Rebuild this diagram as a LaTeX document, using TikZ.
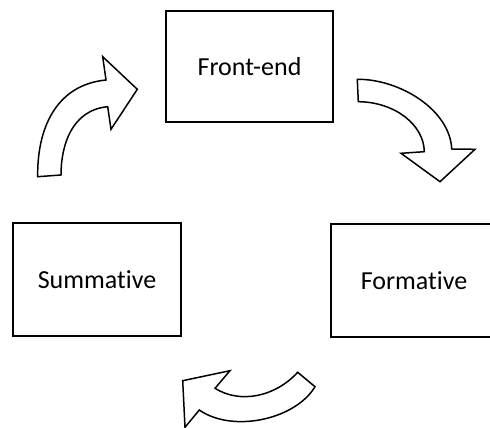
\documentclass[tikz,border=0pt]{standalone}
\usepackage{fontspec}
\setmainfont{Carlito}[Ligatures={NoCommon}]
\usetikzlibrary{positioning}

\begin{document}
\begin{tikzpicture}[x=0.02cm,y=-0.02cm,semithick]
	  \tikzstyle{stage}=[rectangle,draw=black,line width=1.1pt,fill=white,inner sep=0pt,
	    text=black,font=\fontsize{14.8}{18}\selectfont]
	  \tikzstyle{blockarrow}=[draw=black,line width=0.85pt,fill=white,line join=miter]

	  \useasboundingbox (0,0) rectangle (490,428);

	  \node[stage,minimum width=3.34cm,minimum height=2.23cm] (FE) at (249.5,66.3) {Front-end};
	  \node[stage,minimum width=3.36cm,minimum height=2.26cm] (SU) at (97,279.5) {Summative};
	  % right side runs off the page
	  \node[stage,minimum width=3.58cm,minimum height=2.25cm] (FO) at (420.5,280.5) {Formative\rule{0.26cm}{0pt}};

	  % summative to front-end
	  \draw[blockarrow] (37.7,176.7) .. controls (37,130) and (55,85) .. (106,80)
	    -- (102.7,56.7) -- (137.3,89.3) -- (111,129.3) -- (107.7,106.7)
	    .. controls (72,110) and (61,145) .. (61,175) -- cycle;

	  % front-end to formative
	  \draw[blockarrow] (357.3,79.3) .. controls (400,79) and (450,110) .. (451.7,149)
	    -- (475,149.3) -- (440,181.7) -- (401,153.3) -- (424.3,151.7)
	    .. controls (424,125) and (395,102) .. (358.3,101.7) -- cycle;

	  % formative to summative
	  \draw[blockarrow] (297.7,372.3) .. controls (275,397) and (240,404) .. (215,388.3)
	    -- (230,370.7) -- (182.7,380.7) -- (185,427.3) -- (199.3,410)
	    .. controls (232,433) and (295,420) .. (315,386.7) -- cycle;
	\end{tikzpicture}
\end{document}
